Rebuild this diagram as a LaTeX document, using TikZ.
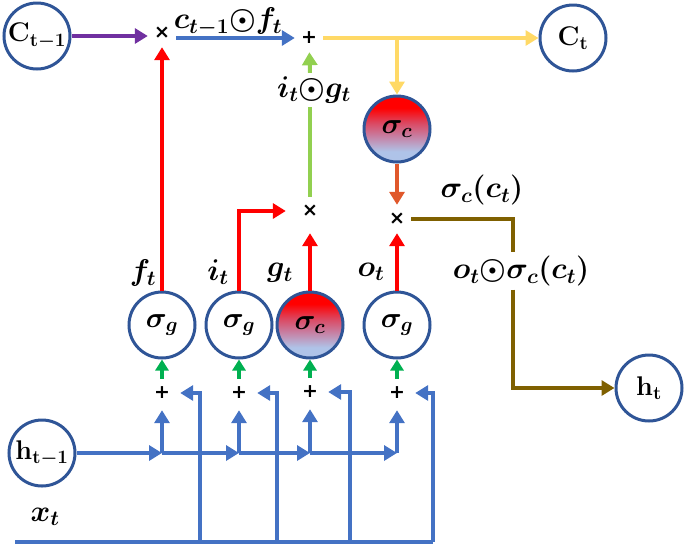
\RequirePackage{fix-cm}
\documentclass[tikz,border=0pt]{standalone}
\usepackage{fontspec}
\newfontfamily\opfont{DejaVu Sans}
\usetikzlibrary{arrows.meta,calc}
\definecolor{cborder}{RGB}{47,85,151}
\definecolor{cred}{RGB}{255,0,0}
\definecolor{cpurple}{RGB}{112,48,160}
\definecolor{cblue}{RGB}{68,114,196}
\definecolor{cyellow}{RGB}{255,217,102}
\definecolor{clgreen}{RGB}{146,208,80}
\definecolor{cgreen}{RGB}{0,176,80}
\definecolor{corange}{RGB}{224,88,43}
\definecolor{cbrown}{RGB}{127,96,0}
\definecolor{clblue}{RGB}{175,195,232}
\definecolor{cmauve}{RGB}{200,125,160}
\definecolor{crose}{RGB}{220,70,95}
\pgfdeclareverticalshading{lstmshade}{100bp}{color(0bp)=(clblue); color(33bp)=(clblue); color(45bp)=(cmauve); color(55bp)=(crose); color(66bp)=(cred); color(100bp)=(cred)}
\begin{document}
\begin{tikzpicture}[x=1pt,y=-1pt,
  font=\fontsize{30}{34}\selectfont\boldmath,
  unit/.style={circle,draw=cborder,line width=3pt,minimum size=66pt,inner sep=0pt,
    font=\fontsize{27}{30}\selectfont\boldmath},
  gate/.style={unit,font=\fontsize{29}{32}\selectfont\boldmath},
  act/.style={gate,shade,shading=lstmshade},
  op/.style={circle,inner sep=0pt,minimum size=28pt,font=\fontsize{19}{19}\selectfont\opfont\bfseries},
  ln/.style={line width=4pt},
  arr/.style={line width=4pt,-{Triangle[length=13pt,width=15pt]}},
  garr/.style={line width=4pt,-{Triangle[length=11pt,width=13pt]}}]
\useasboundingbox (0,0) rectangle (685,547);
% units
\node[unit] (Cp) at (37,36) {$\mathbf{C}_{\mathbf{t-1}}$};
\node[op] (m1) at (162,33) {×};
\node[op] (pl) at (309,38) {+};
\node[unit] (Ct) at (573,38) {$\mathbf{C}_{\mathbf{t}}$};
\node[act] (sc) at (397,129) {$\sigma_c$};
\node[op] (mg) at (310,211) {×};
\node[op] (mo) at (397,219) {×};
\node[gate] (sf) at (162,325) {$\sigma_g$};
\node[gate] (si) at (239,325) {$\sigma_g$};
\node[act] (sg) at (310,325) {$\sigma_c$};
\node[gate] (so) at (397,325) {$\sigma_g$};
\node[op] (p1) at (162,393) {+};
\node[op] (p2) at (239,393) {+};
\node[op] (p3) at (310,392) {+};
\node[op] (p4) at (397,393) {+};
\node[unit] (hp) at (42,453) {$\mathbf{h}_{\mathbf{t-1}}$};
\node[unit] (hn) at (649,388) {$\mathbf{h}_{\mathbf{t}}$};
% labels
\node (lcf) at (228,22) {$c_{t-1}{\odot}f_t$};
\node[minimum height=34pt] (lig) at (314,90) {$i_t{\odot}g_t$};
\node (lsc) at (482,190) {$\sigma_c(c_t)$};
\node[minimum height=34pt] (loc) at (521,271) {$o_t{\odot}\sigma_c(c_t)$};
\node (lf) at (143,273) {$f_t$};
\node (li) at (218,272) {$i_t$};
\node (lg) at (280,273) {$g_t$};
\node (lo) at (371,272) {$o_t$};
\node (lx) at (45,517) {$x_t$};
% top connectors
\draw[arr,cpurple] (Cp) -- (Cp -| m1.west);
\draw[arr,cblue] (m1.east |- pl) -- (pl);
\draw[arr,cyellow] (pl) -- (Ct);
\coordinate (br) at (397,38);
\draw[arr,cyellow] (br) -- (sc.north);
\draw[arr,corange] (sc) -- (mo);
\draw[ln,clgreen] (mg) -- (mg |- lig.south);
\draw[arr,clgreen] (mg |- lig.north) -- (pl);
% red gate outputs
\draw[arr,cred] (sf) -- (m1);
\draw[arr,cred,shorten >=10pt] (si) |- (mg);
\draw[arr,cred,shorten >=8pt] (sg) -- (mg);
\draw[arr,cred] (so) -- (mo);
% output
\draw[ln,cbrown] (mo) -| ([xshift=-8pt]loc.north);
\draw[arr,cbrown] ([xshift=-8pt]loc.south) |- (hn);
% green into gates
\draw[garr,cgreen] (p1) -- (sf);
\draw[garr,cgreen] (p2) -- (si);
\draw[garr,cgreen] (p3) -- (sg);
\draw[garr,cgreen] (p4) -- (so);
% h_{t-1}
\coordinate (j1) at (162,453);
\coordinate (j2) at (239,453);
\coordinate (j3) at (310,453);
\coordinate (j4) at (397,453);
\draw[arr,cblue] (hp) -- (j1);
\draw[arr,cblue] (j1) -- (j2);
\draw[arr,cblue] (j2) -- (j3);
\draw[arr,cblue] (j3) -- (j4);
\draw[arr,cblue,shorten >=3pt] (j1) -- (p1);
\draw[arr,cblue,shorten >=3pt] (j2) -- (p2);
\draw[arr,cblue,shorten >=3pt] (j3) -- (p3);
\draw[arr,cblue,shorten >=3pt] (j4) -- (p4);
% x_t
\coordinate (x0) at (15,542);
\coordinate (x1) at (200,542);
\coordinate (x2) at (277,542);
\coordinate (x3) at (350,542);
\coordinate (x4) at (433,542);
\draw[ln,cblue] (x0) -- (x4);
\draw[arr,cblue,shorten >=4pt] (x1) |- (p1);
\draw[arr,cblue,shorten >=4pt] (x2) |- (p2);
\draw[arr,cblue,shorten >=4pt] (x3) |- (p3);
\draw[arr,cblue,shorten >=4pt] (x4) |- (p4);
\end{tikzpicture}
\end{document}
